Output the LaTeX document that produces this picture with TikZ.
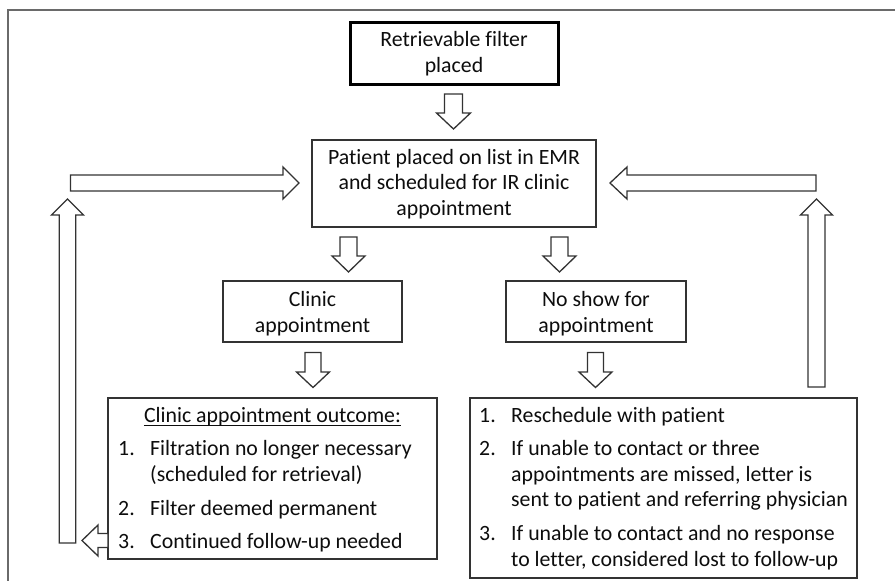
\documentclass[tikz,border=0pt]{standalone}
\usepackage{fontspec}
\setmainfont{Carlito}[Ligatures=NoCommon]
\usetikzlibrary{calc}
\definecolor{txt}{HTML}{0D0D0D}
\definecolor{edge}{HTML}{333333}
\definecolor{framec}{HTML}{6A6A6A}
\tikzset{
  box/.style={draw=edge, line width=1.3pt, fill=white, inner sep=0pt},
  thickbox/.style={draw=black, line width=3pt, fill=white, inner sep=0pt},
  lbl/.style={text=txt, font=\fontsize{21.8}{25.5}\selectfont, inner sep=0pt, align=center, anchor=base},
  lft/.style={text=txt, font=\fontsize{21.8}{25.5}\selectfont, inner sep=0pt, align=left, anchor=base west},
  blk/.style={draw=edge, line width=1.3pt, fill=white, line join=miter}
}
\newcommand\varr[6]{\draw[blk] (#1-#5,#2) -- (#1+#5,#2) -- (#1+#5,#3) -- (#1+#6,#3) -- (#1,#4) -- (#1-#6,#3) -- (#1-#5,#3) -- cycle;}
\newcommand\harr[6]{\draw[blk] (#2,#1-#5) -- (#2,#1+#5) -- (#3,#1+#5) -- (#3,#1+#6) -- (#4,#1) -- (#3,#1-#6) -- (#3,#1-#5) -- cycle;}
\begin{document}
\begin{tikzpicture}[x=1pt,y=-1pt]
\useasboundingbox (0,0) rectangle (895,581);
\fill[white] (0,0) rectangle (895,581);
\draw[framec, line width=1.2pt] (8,590) -- (8,10) -- (900,10);

% boxes
\node[thickbox, minimum width=208pt, minimum height=62pt] (filter) at (454,53) {};
\node[box, minimum width=284pt, minimum height=87pt] (emr) at (454,183.5) {};
\node[box, minimum width=179pt, minimum height=61pt] (clinic) at (312.5,311.5) {};
\node[box, minimum width=180pt, minimum height=61pt] (noshow) at (596,311.5) {};
\node[box, minimum width=329pt, minimum height=161pt] (outcome) at (272.5,478.5) {};
\node[box, minimum width=387pt, minimum height=180pt] (steps) at (663.5,488) {};

% texts (base anchor = baseline of the last line)
\node[lbl] (tfilter) at (454,72) {Retrievable filter\\placed};
\node[lbl] (temr) at (454,215) {Patient placed on list in EMR\\and scheduled for IR clinic\\appointment};
\node[lbl] (tclinic) at (312.5,332) {Clinic\\appointment};
\node[lbl] (tnoshow) at (596,332) {No show for\\appointment};

\node[lbl] (ttitle) at (272.5,422.7) {Clinic appointment outcome:};
\draw[txt, line width=1pt] ($(ttitle.base west)+(0,3)$) -- ($(ttitle.base east)+(0,3)$);
\node[lft] (o1n) at (118,455.7) {1.};
\node[lft] (o1) at (150,481) {Filtration no longer necessary\\(scheduled for retrieval)};
\node[lft] (o2n) at (118,515) {2.};
\node[lft] (o2) at (150,515) {Filter deemed permanent};
\node[lft] (o3n) at (118,548) {3.};
\node[lft] (o3) at (150,548) {Continued follow-up needed};

\node[lft] (s1n) at (479,422.7) {1.};
\node[lft] (s1) at (511,422.7) {Reschedule with patient};
\node[lft] (s2n) at (479,455.7) {2.};
\node[lft] (s2) at (511,506.7) {If unable to contact or three\\appointments are missed, letter is\\sent to patient and referring physician};
\node[lft] (s3n) at (479,540.7) {3.};
\node[lft] (s3) at (511,566) {If unable to contact and no response\\to letter, considered lost to follow-up};

% block arrows
\varr{453.5}{94}{113}{129}{9}{17}
\varr{348.5}{237}{256}{272}{8.5}{16.5}
\varr{559.5}{237}{256}{272}{8.5}{16.5}
\varr{313}{352.5}{372}{387.5}{8}{16.5}
\varr{595.5}{352.5}{372}{387.5}{8}{16.5}
\varr{67.5}{543}{215}{199}{8.3}{16}
\varr{816.5}{387}{215}{199}{8.5}{16}
\harr{183}{70.5}{283}{299}{8}{16}
\harr{183}{816}{627}{610}{8}{16}
\harr{540.5}{108}{98}{82}{7}{15.5}
\end{tikzpicture}
\end{document}
